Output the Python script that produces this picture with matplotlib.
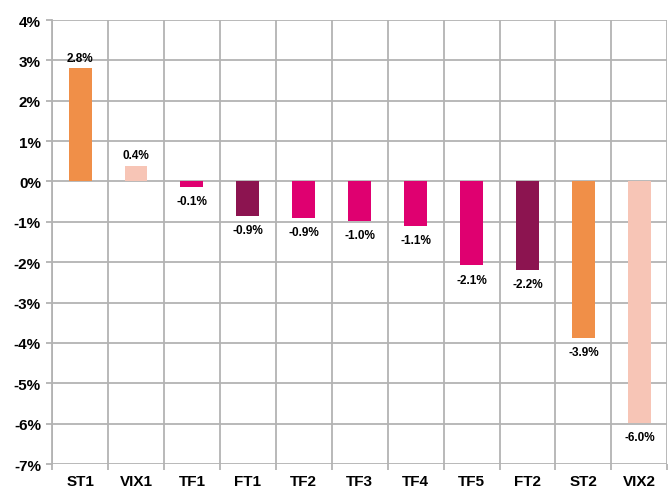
import matplotlib.pyplot as plt
import numpy as np

plt.rcParams['font.family'] = ['Liberation Sans', 'DejaVu Sans']

# data
kategorier = ["ST1", "VIX1", "TF1", "FT1", "TF2", "TF3", "TF4", "TF5", "FT2", "ST2", "VIX2"]
verdier = [2.8, 0.38, -0.14, -0.85, -0.9, -0.97, -1.1, -2.08, -2.2, -3.88, -5.98]
etiketter = ["2.8%", "0.4%", "-0.1%", "-0.9%", "-0.9%", "-1.0%", "-1.1%", "-2.1%", "-2.2%", "-3.9%", "-6.0%"]
farger = ["#F08F48", "#F7C5B6", "#DF0070", "#8C1450", "#DF0070", "#DF0070",
          "#DF0070", "#DF0070", "#8C1450", "#F08F48", "#F7C5B6"]

fig = plt.figure(figsize=(6.68, 4.89), dpi=100)
ax = fig.add_axes([0.078, 0.049, 0.921, 0.908])

x = np.arange(len(kategorier))
ax.bar(x, verdier, width=0.41, color=farger, zorder=3)

for xi, v, t in zip(x, verdier, etiketter):
    if v >= 0:
        ax.text(xi, v + 0.12, t, ha="center", va="bottom", fontsize=8.5, fontweight="bold")
    else:
        ax.text(xi, v - 0.2, t, ha="center", va="top", fontsize=8.5, fontweight="bold")

ax.set_xlim(-0.5, len(kategorier) - 0.5)
ax.set_ylim(-7, 4)
ax.set_yticks(np.arange(-7, 5, 1))
ax.set_yticklabels([f"{i}%" for i in range(-7, 5)], fontsize=11, fontweight="bold")
ax.set_xticks(x)
ax.set_xticklabels(kategorier, fontsize=11, fontweight="bold")
ax.set_xticks(np.arange(-0.5, len(kategorier), 1), minor=True)

ax.grid(axis="y", color="#B3B3B3", linewidth=1.3, zorder=0)
ax.grid(axis="x", which="minor", color="#B3B3B3", linewidth=1.3, zorder=0)
ax.tick_params(axis="x", which="major", length=0, pad=7)
ax.tick_params(axis="x", which="minor", length=4, color="#B3B3B3", width=1.3)
ax.tick_params(axis="y", length=4, color="#B3B3B3", width=1.3, pad=4)

for s in ["top", "right", "bottom"]:
    ax.spines[s].set_visible(False)
ax.spines["left"].set_color("#B3B3B3")
ax.spines["left"].set_linewidth(1.3)

plt.savefig("out.png", dpi=100)
